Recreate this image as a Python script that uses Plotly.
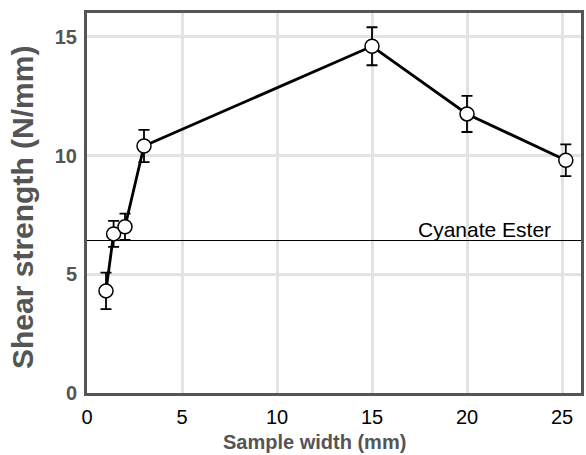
import plotly.graph_objects as go

# Data
sample_width = [1, 1.4, 2, 3, 15, 20, 25.2]
shear_strength = [4.3, 6.7, 7.0, 10.4, 14.6, 11.75, 9.8]
shear_err = [0.77, 0.55, 0.55, 0.68, 0.8, 0.76, 0.67]
cyanate_ester = 6.42
cyanate_label = "Cyanate Ester"
x_ticks = [0, 5, 10, 15, 20, 25]
y_ticks = [0, 5, 10, 15]

GRAY = "#555555"
FONT = "Liberation Sans, Arial, sans-serif"

fig = go.Figure()

fig.add_trace(go.Scatter(
    x=[0, 26], y=[cyanate_ester, cyanate_ester], mode="lines",
    line=dict(color="black", width=1), hoverinfo="skip", showlegend=False,
))

fig.add_trace(go.Scatter(
    x=sample_width, y=shear_strength, mode="lines+markers",
    line=dict(color="black", width=2.8),
    marker=dict(symbol="circle", size=14, color="white",
                line=dict(color="black", width=1.5)),
    error_y=dict(type="data", array=shear_err, visible=True,
                 color="black", thickness=1.8, width=5.5),
    showlegend=False,
))

fig.add_annotation(
    x=24.55, y=cyanate_ester, xref="x", yref="y", text=cyanate_label,
    showarrow=False, xanchor="right", yanchor="bottom", yshift=-2,
    font=dict(family=FONT, size=21, color="black"),
)

# axis titles placed to match the reference
fig.add_annotation(
    x=(316 - 87) / 498, y=0, xref="paper", yref="paper",
    text="<b>Sample width (mm)</b>", showarrow=False,
    xanchor="center", yanchor="middle", yshift=-49,
    font=dict(family=FONT, size=20, color=GRAY),
)
fig.add_annotation(
    x=0, y=(393 - 208) / 380, xref="paper", yref="paper",
    text="<b>Shear strength (N/mm)</b>", showarrow=False, textangle=-90,
    xanchor="center", yanchor="middle", xshift=-64,
    font=dict(family=FONT, size=30, color=GRAY),
)

fig.update_xaxes(
    range=[0, 26], tickvals=x_ticks, showgrid=True, gridcolor="#e3e3e3",
    gridwidth=3, zeroline=False, showline=True, linecolor=GRAY,
    linewidth=3, mirror=True, ticks="", ticklabelstandoff=4,
    tickfont=dict(family=FONT, size=20, color="black"),
)
fig.update_yaxes(
    range=[0, 16], tickvals=y_ticks, showgrid=True, gridcolor="#e3e3e3",
    gridwidth=3, zeroline=False, showline=True, linecolor=GRAY,
    linewidth=3, mirror=True, ticks="", ticklabelstandoff=3,
    tickfont=dict(family=FONT, size=20, color=GRAY, weight="bold"),
)

fig.update_layout(
    width=586, height=455,
    margin=dict(l=87, r=2, t=13, b=62),
    plot_bgcolor="white", paper_bgcolor="white",
)

fig.write_html("out.html")
